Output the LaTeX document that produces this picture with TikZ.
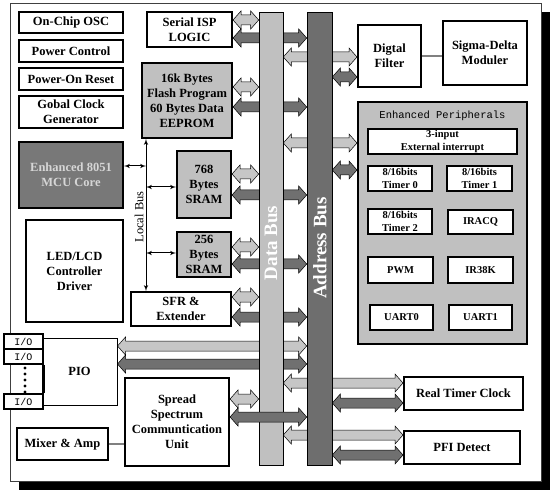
\documentclass[tikz,border=0pt]{standalone}
\usepackage{fontspec}
\setmainfont{Liberation Serif}
\setmonofont{Liberation Mono}
\usetikzlibrary{arrows, calc, positioning, backgrounds}

\definecolor{lgray}{HTML}{C0C0C0}
\definecolor{mgray}{HTML}{787878}
\definecolor{abus}{HTML}{6E6E6E}
\definecolor{tgray}{HTML}{D6D6D6}
\definecolor{arrlite}{HTML}{C6C6C6}
\definecolor{arrdark}{HTML}{707070}

\begin{document}
\begin{tikzpicture}[x=1pt, y=-1pt, >=latex']
 % We define the styles for the blocks, the buses and the bus arrows
 \tikzset{
block/.style = {draw, rectangle, line width=2pt, fill=white, align=center, inner sep=0pt, font=\bfseries\fontsize{12.5}{15}\selectfont},
mem/.style = {block, fill=lgray},
core/.style = {block, fill=mgray, text=tgray},
unit/.style = {block, line width=1.8pt, font=\bfseries\fontsize{10.5}{12.5}\selectfont},
io/.style = {draw, rectangle, line width=1.6pt, fill=white, inner sep=0pt, minimum width=39, minimum height=15, font=\ttfamily\fontsize{10}{10}\selectfont},
bus/.style = {draw, rectangle, line width=0.6pt, inner sep=0pt},
buslabel/.style = {text=white, font=\bfseries\fontsize{19}{19}\selectfont, rotate=90},
link/.style = {draw=gray, line width=1.2pt},
lbus/.style = {draw, <->, line width=1pt},
fat/.style = {draw=black, line width=0.5pt, to path={
  let \p1=(\tikztostart), \p2=(\tikztotarget) in
  (\x1,\y1) -- (\x1+8pt,\y1+9pt) -- (\x1+8pt,\y1+5pt) -- (\x2-8pt,\y1+5pt)
  -- (\x2-8pt,\y1+9pt) -- (\x2,\y1) -- (\x2-8pt,\y1-9pt) -- (\x2-8pt,\y1-5pt)
  -- (\x1+8pt,\y1-5pt) -- (\x1+8pt,\y1-9pt) -- cycle}},
lite/.style = {fat, fill=arrlite},
dark/.style = {fat, fill=arrdark},
}
 \useasboundingbox (0,0) rectangle (554,494);

 % Frame with its shadow
 \begin{scope}[on background layer]
 \fill[black] (19,12) rectangle (550,490);
 \draw[fill=white, draw=darkgray, line width=0.8pt] (10,3) rectangle (541,481);
 \end{scope}

 % Left column
 \node [block, minimum width=104, minimum height=21] (osc) at (71,22.5) {On-Chip OSC};
 \node [block, minimum width=104, minimum height=22] (power) at (71,51) {Power Control};
 \node [block, minimum width=104, minimum height=22] (reset) at (71,79) {Power-On Reset};
 \node [block, minimum width=104, minimum height=32] (clock) at (71,112) {Gobal Clock\\Generator};
 \node [core, minimum width=104, minimum height=66] (mcu) at (71,175) {Enhanced 8051\\MCU Core};
 \node [block, minimum width=97, minimum height=101] (led) at (74.5,271) {LED/LCD\\Controller\\Driver};

 % Memories on the local bus
 \node [block, minimum width=85, minimum height=35] (isp) at (189.5,29.5) {Serial ISP\\LOGIC};
 \node [mem, minimum width=90, minimum height=75] (flash) at (187,100.5) {16k Bytes\\Flash Program\\60 Bytes Data\\EEPROM};
 \node [mem, minimum width=54, minimum height=67] (sram1) at (204,184.5) {768\\Bytes\\SRAM};
 \node [mem, minimum width=54, minimum height=45] (sram2) at (204,254.5) {256\\Bytes\\SRAM};
 \node [block, minimum width=100, minimum height=34] (sfr) at (181,309) {SFR \&\\Extender};

 % Local bus
 \coordinate (lbtop) at ([xshift=5pt]flash.south west);
 \coordinate (lbbot) at (lbtop |- sfr.north);
 \draw [lbus] (lbtop) -- (lbbot);
 \draw [lbus] (mcu.east |- 0,166) -- (lbtop |- 0,166);
 \draw [lbus] (lbtop |- 0,187) -- (sram1.west |- 0,187);
 \draw [lbus] (lbtop |- 0,253) -- (sram2.west |- 0,253);
 \node [rotate=90, font=\fontsize{12.5}{12.5}\selectfont] (lblabel) at (139,217) {Local Bus};

 % Right side
 \node [block, minimum width=63, minimum height=62] (filter) at (389.5,56) {Digtal\\Filter};
 \node [block, minimum width=84, minimum height=64] (sigma) at (485,53) {Sigma-Delta\\Moduler};
 \draw [link] (filter.east) -- (sigma.west |- filter.east);

 \node [mem, minimum width=169, minimum height=242] (periph) at (442.5,223) {};
 \node [font=\ttfamily\fontsize{10.5}{12}\selectfont] (ptitle) at (442.5,116) {Enhanced Peripherals};
 \node [unit, minimum width=149, minimum height=25] (intr) at (442.5,141.5) {3-input\\External interrupt};
 \node [unit, minimum width=64, minimum height=25] (tmr0) at (400,178.5) {8/16bits\\Timer 0};
 \node [unit, minimum width=65, minimum height=25] (tmr1) at (479.5,178.5) {8/16bits\\Timer 1};
 \node [unit, minimum width=64, minimum height=25] (tmr2) at (400,221.5) {8/16bits\\Timer 2};
 \node [unit, minimum width=65, minimum height=24] (iracq) at (480.5,222) {IRACQ};
 \node [unit, minimum width=65, minimum height=26] (pwm) at (400.5,270) {PWM};
 \node [unit, minimum width=65, minimum height=26] (ir38k) at (480.5,270) {IR38K};
 \node [unit, minimum width=63, minimum height=25] (uart0) at (401.5,317.5) {UART0};
 \node [unit, minimum width=63, minimum height=25] (uart1) at (480.5,317.5) {UART1};

 \node [block, minimum width=119, minimum height=33] (rtc) at (463.5,393.5) {Real Timer Clock};
 \node [block, minimum width=116, minimum height=33] (pfi) at (462,447.5) {PFI Detect};

 % Bottom left
 \node [block, line width=1pt, minimum width=75, minimum height=67] (pio) at (79.5,371.5) {PIO};
 \node [io] (io1) at (23.5,341.5) {I/O};
 \node [io] (io2) at (23.5,356.5) {I/O};
 \node [io] (io3) at (23.5,401.5) {I/O};
 \draw [line width=2pt] (io2.south east) -- (io3.north east);
 \foreach \y in {368,374,380,386,392}
   \fill (25,\y) circle (1.7);
 \node [block, minimum width=104, minimum height=88] (spread) at (177,422) {Spread\\Spectrum\\Communtication\\Unit};
 \node [block, minimum width=91, minimum height=32] (mixer) at (62.5,444) {Mixer \& Amp};
 \draw [link] (mixer.east) -- (spread.west |- mixer.east);

 % Data bus and address bus
 \node [bus, fill=lgray, minimum width=24, minimum height=453] (databus) at (271,238.5) {};
 \node [buslabel] (dblabel) at (271,243) {Data Bus};
 \node [bus, fill=abus, minimum width=25, minimum height=453] (addrbus) at (319.5,238.5) {};
 \node [buslabel] (ablabel) at (320,248) {Address Bus};

 % Bus arrows, behind the buses
 \begin{scope}[on background layer]
 \draw [lite] (isp.east |- 0,20) to (databus.west |- 0,20);
 \draw [dark] (isp.east |- 0,38) to (addrbus.west |- 0,38);
 \draw [lite] (flash.east |- 0,87) to (databus.west |- 0,87);
 \draw [dark] (flash.east |- 0,107) to (addrbus.west |- 0,107);
 \draw [lite] (sram1.east |- 0,174) to (databus.west |- 0,174);
 \draw [dark] (sram1.east |- 0,195) to (addrbus.west |- 0,195);
 \draw [lite] (sram2.east |- 0,247) to (databus.west |- 0,247);
 \draw [dark] (sram2.east |- 0,264) to (addrbus.west |- 0,264);
 \draw [lite] (sfr.east |- 0,297) to (databus.west |- 0,297);
 \draw [dark] (sfr.east |- 0,317) to (addrbus.west |- 0,317);
 \draw [lite] (pio.east |- 0,346) to (addrbus.west |- 0,346);
 \draw [dark] (pio.east |- 0,364) to (addrbus.west |- 0,364);
 \draw [lite] (spread.east |- 0,399) to (databus.west |- 0,399);
 \draw [lite] (databus.east |- 0,57) to (filter.west |- 0,57);
 \draw [dark] (addrbus.east |- 0,77) to (filter.west |- 0,77);
 \draw [lite] (databus.east |- 0,143) to (periph.west |- 0,143);
 \draw [dark] (addrbus.east |- 0,170) to (periph.west |- 0,170);
 \draw [lite] (databus.east |- 0,383) to (rtc.west |- 0,383);
 \draw [dark] (addrbus.east |- 0,403) to (rtc.west |- 0,403);
 \draw [lite] (databus.east |- 0,435) to (pfi.west |- 0,435);
 \draw [dark] (addrbus.east |- 0,455) to (pfi.west |- 0,455);
 \end{scope}
 % this one runs over the data bus
 \draw [dark] (spread.east |- 0,417) to (addrbus.west |- 0,417);

\end{tikzpicture}
\end{document}
